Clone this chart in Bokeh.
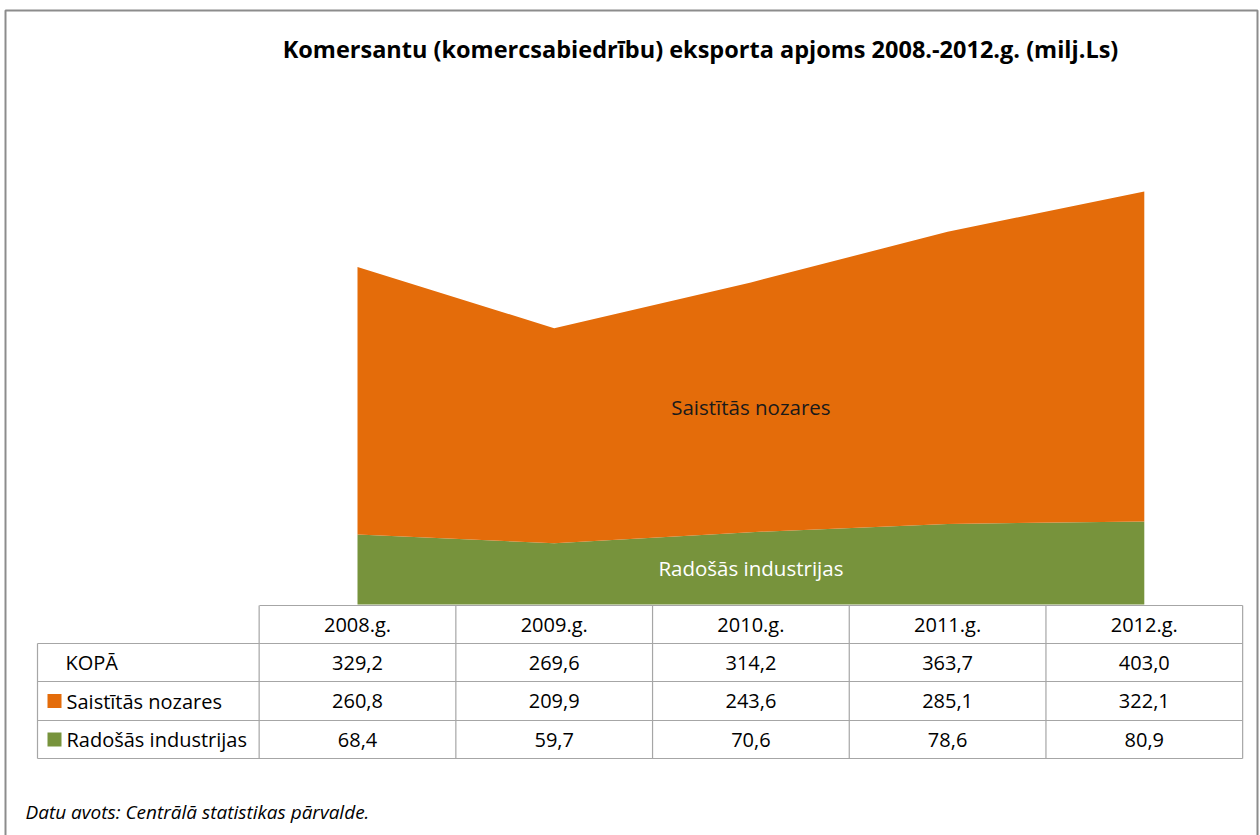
from bokeh.plotting import figure
from bokeh.models import Range1d, ColumnDataSource
from bokeh.core.properties import value
from bokeh.embed import file_html
from bokeh.resources import INLINE

# ---- data ----
years = ["2008.g.", "2009.g.", "2010.g.", "2011.g.", "2012.g."]
kopa = [329.2, 269.6, 314.2, 363.7, 403.0]
saistitas = [260.8, 209.9, 243.6, 285.1, 322.1]
radosas = [68.4, 59.7, 70.6, 78.6, 80.9]
series_names = ["Saistītās nozares", "Radošās industrijas"]
title = "Komersantu (komercsabiedrību) eksporta apjoms 2008.-2012.g. (milj.Ls)"
source_note = "Datu avots: Centrālā statistikas pārvalde."

ORANGE = "#E46C0A"
GREEN = "#77933C"
GRID = "#a6a6a6"
FONT = "Open Sans"

W, H = 1260, 835
OFF = 0  # canvas origin in page pixels
# layout helpers: page pixel -> data coordinate (layout only)
X0, DX, Y0, KY = 357.0, 196.7, 604.0, 1.025


def px(x):
    return (x - X0) / DX


def py(y):
    return (Y0 - y) / KY


p = figure(width=W, height=H, x_range=Range1d(px(OFF), px(OFF + W)),
           y_range=Range1d(py(OFF + H), py(OFF)), output_backend="svg",
           toolbar_location=None, min_border=0, x_axis_type=None,
           y_axis_type=None, outline_line_color=None)
p.grid.visible = False
p.background_fill_color = "white"
p.border_fill_color = "white"

idx = list(range(len(years)))
top = [r + s for r, s in zip(radosas, saistitas)]
src = ColumnDataSource(dict(x=idx, rad=radosas, top=top))
p.varea(x="x", y1=0, y2="rad", source=src, fill_color=GREEN)
p.varea(x="x", y1="rad", y2="top", source=src, fill_color=ORANGE)

# area labels
p.text(x=[2], y=[(radosas[2] + top[2]) / 2], text=[series_names[0]],
       text_align="center", text_baseline="middle", text_color="#1a1a1a",
       text_font=value(FONT), text_font_size="20.5px")
p.text(x=[2], y=[radosas[2] / 2], text=[series_names[1]],
       text_align="center", text_baseline="middle", text_color="white",
       text_font=value(FONT), text_font_size="20.5px")

# ---- data table ----
row_y = [py(624), py(662), py(700.5), py(739)]
row_lines = [py(605), py(643), py(681), py(720), py(758)]
x_left = px(37)
x_lab = px(259)
x_right = len(years) - 0.5

hx0 = [x_lab] + [x_left] * 4
hx1 = [x_right] * 5
p.segment(x0=hx0, y0=row_lines, x1=hx1, y1=row_lines, line_color=GRID, line_width=1.2)
vx = [x_left] + [i - 0.5 for i in range(len(years) + 1)]
vy0 = [row_lines[1]] + [row_lines[0]] * (len(years) + 1)
vy1 = [row_lines[-1]] * len(vx)
p.segment(x0=vx, y0=vy0, x1=vx, y1=vy1, line_color=GRID, line_width=1.2)


def fmt(v):
    return f"{v:.1f}".replace(".", ",")


tx, ty, tt = [], [], []
for i, yr in enumerate(years):
    tx += [i] * 4
    ty += row_y
    tt += [yr, fmt(kopa[i]), fmt(saistitas[i]), fmt(radosas[i])]
p.text(x="x", y="y", text="t", source=ColumnDataSource(dict(x=tx, y=ty, t=tt)),
       text_align="center", text_baseline="middle", text_color="#000000",
       text_font=value(FONT), text_font_size="20px")

p.text(x=[px(65), px(66), px(66)], y=row_y[1:],
       text=["KOPĀ"] + series_names, text_align="left", text_baseline="middle",
       text_color="#000000", text_font=value(FONT), text_font_size="20px")
p.scatter(x=[px(54), px(54)], y=row_y[2:], marker="square", size=14,
          fill_color=[ORANGE, GREEN], line_color=None)

# title and source
p.text(x=[px(700)], y=[py(48)], text=[title], text_align="center",
       text_baseline="middle", text_color="#000000", text_font=value(FONT),
       text_font_size="23.5px", text_font_style="bold")
p.text(x=[px(25)], y=[py(811)], text=[source_note], text_align="left",
       text_baseline="middle", text_color="#000000", text_font=value(FONT),
       text_font_size="19px", text_font_style="italic")

# outer border
p.line(x=[px(5), px(5), px(1257), px(1257)],
       y=[py(900), py(10), py(10), py(900)], line_color="#8c8c8c", line_width=2)

open("out.html", "w").write(file_html(p, INLINE))
